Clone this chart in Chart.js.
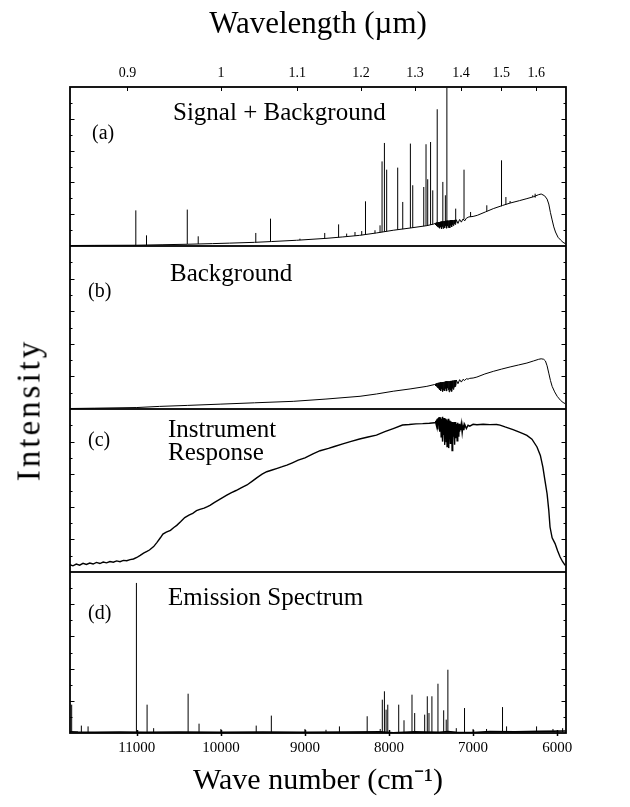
<!DOCTYPE html>
<html>
<head>
<meta charset="utf-8">
<script src="https://cdn.jsdelivr.net/npm/chart.js@4.4.0/dist/chart.umd.min.js"></script>
<style>
  html, body { margin: 0; padding: 0; background: #fff; }
  #page { position: relative; width: 630px; height: 807px; overflow: hidden; background: #fff; }
  #page canvas { position: absolute; left: 0; }
  #ylabel {
    position: absolute; left: 29px; top: 410px;
    transform: translate(-50%, -50%) rotate(-90deg);
    font: 33px "Liberation Serif", serif; letter-spacing: 3px; white-space: nowrap; color: #000;
  }
</style>
</head>
<body>
<div id="page">
  <canvas id="panelA" width="630" height="246" style="top:0px"></canvas>
  <canvas id="panelB" width="630" height="163" style="top:246px"></canvas>
  <canvas id="panelC" width="630" height="163" style="top:409px"></canvas>
  <canvas id="panelD" width="630" height="235" style="top:572px"></canvas>
  <div id="ylabel">Intensity</div>
</div>
<script>
// axis ranges and tick labels
const WN_MIN = 5895
const WN_MAX = 11795
const wnTicks = [6000, 7000, 8000, 9000, 10000, 11000]
const lambdaTicks = [0.9, 1, 1.1, 1.2, 1.3, 1.4, 1.5, 1.6]
const lambdaLabels = ['0.9', '1', '1.1', '1.2', '1.3', '1.4', '1.5', '1.6']
const yTicks = [10, 20, 30, 40, 50, 60, 70, 80, 90]

// (a) signal + background: continuum (cm-1, % of panel)
const aWn = [11795, 11500, 11000, 10700, 10400, 10100, 9900, 9600, 9400, 9100, 8750, 8550, 8350, 8150, 7950, 7750, 7550, 7470,
  7450, 7445, 7440, 7435, 7430, 7425, 7420, 7415, 7410, 7405, 7400, 7395, 7390, 7385, 7380, 7375, 7370, 7365, 7360, 7355,
  7350, 7345, 7340, 7335, 7330, 7325, 7320, 7315, 7310, 7305, 7300, 7295, 7290, 7285, 7280, 7275, 7270, 7265, 7260, 7255,
  7250, 7245, 7240, 7235, 7230, 7225, 7220, 7215, 7210, 7205, 7200, 7180, 7160, 7140, 7120, 7100, 7080, 7050,
  7000, 6950, 6850, 6760, 6650, 6560, 6450, 6360, 6280, 6220, 6190, 6150, 6120, 6100, 6080, 6060, 6040, 6020, 5990, 5960, 5930, 5900]
const aVal = [0.3, 0.4, 0.5, 0.8, 1.1, 1.5, 1.8, 2.3, 2.8, 3.6, 4.8, 5.7, 6.7, 8.2, 9.9, 11.3, 12.8, 13.8,
  14.2, 13.2, 14.6, 12.6, 14.8, 12.2, 14.9, 11.8, 15, 12.5, 15.1, 11.2, 15.2, 12, 15.3, 10.8, 15.4, 12.2, 15.5, 11,
  15.6, 12.4, 15.7, 11.5, 15.8, 12.8, 15.8, 11.2, 15.9, 12.6, 16, 11.6, 16, 12.9, 16.1, 11.4, 16.1, 13, 16.2, 12,
  16.2, 13.4, 16.3, 12.8, 16.3, 14, 16.4, 13.6, 16.4, 14.5, 16.5, 14.2, 16.7, 15, 17, 15.8, 17.5, 18.3,
  18.6, 19.3, 21.5, 23.5, 25.5, 27, 28.5, 29.8, 31, 32.3, 32.7, 31.6, 29.5, 26.4, 21, 16.4, 12, 8.8, 5.5, 3.8, 2.3, 1.4]

// (a) emission lines: position, top, foot
const aLineWn = [11012, 10885, 10400, 10270, 9585, 9410, 9060, 8765, 8600, 8504, 8405, 8325, 8280, 8167, 8107, 8083, 8055, 8028,
  7897, 7837, 7746, 7718, 7587, 7560, 7540, 7506, 7480, 7427, 7360, 7330, 7312, 7207, 7108, 7030, 6837, 6662, 6610, 6560, 6290, 6262]
const aLineTop = [22.4, 6.7, 22.9, 6.1, 8.2, 17.2, 4.6, 8.2, 13.6, 7.8, 8.8, 9.4, 28.1, 9.9, 13, 53.2, 64.8, 48,
  49.3, 27.7, 64.4, 38.2, 37.1, 64, 42, 65.4, 35, 86, 40.3, 31.9, 99.5, 23.5, 48, 21.4, 25.6, 53.9, 30.8, 28.3, 31.9, 32.9]
const aLineBase = [0.5, 0.6, 1.1, 1.3, 2.3, 2.8, 3.7, 4.8, 5.5, 6.1, 6.3, 6.8, 7.0, 8.0, 8.5, 8.7, 9.0, 9.2,
  10.2, 10.6, 11.3, 11.5, 12.5, 12.7, 12.9, 13.2, 13.5, 13.5, 14.0, 14.0, 14.0, 15.5, 16.8, 18.3, 21.8, 25.0, 26.0, 27.0, 30.8, 30.4]

// (b) background
const bWn = [11795, 11500, 11000, 10730, 10400, 10000, 9600, 9140, 8750, 8345, 8150, 7950, 7750, 7550, 7460,
  7450, 7445, 7440, 7435, 7430, 7425, 7420, 7415, 7410, 7405, 7400, 7395, 7390, 7385, 7380, 7375, 7370, 7365, 7360, 7355,
  7350, 7345, 7340, 7335, 7330, 7325, 7320, 7315, 7310, 7305, 7300, 7295, 7290, 7285, 7280, 7275, 7270, 7265, 7260, 7255,
  7250, 7245, 7240, 7235, 7230, 7225, 7220, 7215, 7210, 7205, 7200, 7180, 7160, 7140, 7120, 7100, 7080, 7060, 7040,
  7000, 6955, 6860, 6760, 6660, 6560, 6460, 6360, 6280, 6220, 6190, 6160, 6140, 6120, 6100, 6080, 6060, 6030, 6000, 5960, 5930, 5905]
const bVal = [0.3, 0.5, 0.9, 1.6, 2.2, 3.0, 3.8, 4.7, 6.1, 7.8, 9.2, 10.9, 12.3, 13.9, 15,
  15.2, 14.2, 15.6, 13.8, 15.8, 13.2, 16, 12.8, 16.1, 12.2, 16.2, 11.8, 16.3, 11.2, 16.2, 12.5, 16.4, 10.6, 16.5, 11.5,
  16.6, 12.4, 16.7, 11.2, 16.8, 12.6, 16.9, 11, 17, 12.8, 17, 11.8, 17.1, 10.5, 17.1, 12.2, 17.2, 11.5, 17.2, 10.8,
  17.3, 12.6, 17.4, 12, 17.5, 13.4, 17.6, 13.8, 17.7, 14.5, 17.8, 15.5, 18, 16.5, 18.2, 17.5, 18.6, 18.3, 18.8,
  19.0, 19.6, 21.5, 23.1, 24.5, 25.8, 27.0, 28.2, 29.5, 30.5, 30.8, 30.5, 29.5, 26.5, 22, 17.5, 13.9, 10.5, 7.8, 5.3, 4, 3.3]

// (c) instrument response
const cWn = [11795, 11760, 11720, 11680, 11640, 11600, 11560, 11520, 11480, 11440, 11400, 11360, 11320, 11280, 11240, 11200, 11160, 11120, 11080, 11040,
  11000, 10960, 10920, 10880, 10850, 10800, 10760, 10720, 10690, 10650, 10600, 10560, 10525, 10480, 10430, 10380, 10335, 10290, 10250, 10200,
  10160, 10130, 10080, 10030, 9980, 9930, 9880, 9820, 9760, 9690, 9630, 9570, 9510, 9455, 9400, 9330, 9270, 9215, 9150, 9080,
  9000, 8905, 8820, 8720, 8650, 8550, 8450, 8350, 8250, 8150, 8050, 7950, 7840, 7760, 7680, 7600, 7520, 7460,
  7450, 7445, 7440, 7435, 7430, 7425, 7420, 7415, 7410, 7405, 7400, 7395, 7390, 7385, 7380, 7375, 7370, 7365, 7360, 7355,
  7350, 7345, 7340, 7335, 7330, 7325, 7320, 7315, 7310, 7305, 7300, 7295, 7290, 7285, 7280, 7275, 7270, 7265, 7260, 7255,
  7250, 7245, 7240, 7235, 7230, 7225, 7220, 7215, 7210, 7205, 7200, 7195, 7190, 7185, 7180, 7175, 7170, 7165, 7160, 7155,
  7150, 7140, 7130, 7120, 7110, 7100, 7080, 7060, 7040,
  7000, 6955, 6880, 6800, 6720, 6680, 6620, 6560, 6525, 6450, 6400, 6360, 6300, 6240, 6200, 6170, 6145, 6120, 6100, 6085,
  6060, 6025, 5995, 5965, 5935, 5905]
const cVal = [4.5, 3.8, 4.9, 4.2, 5.3, 4.6, 5.5, 4.9, 5.9, 5.2, 6.1, 5.6, 6.4, 6.0, 6.8, 6.3, 7.1, 6.9, 7.6, 8.0,
  8.9, 10.2, 11.6, 12.6, 13.5, 15.6, 18.2, 21.0, 23.3, 24.5, 25.6, 27.3, 28.6, 30.8, 33.4, 34.9, 36.0, 37.6, 38.4, 39.2,
  40.1, 40.9, 42.6, 44.1, 45.6, 47.1, 48.6, 50.0, 51.6, 53.4, 55.6, 57.9, 60.0, 61.5, 62.4, 63.6, 64.6, 65.6, 67.0, 68.6,
  70.0, 72.5, 74.4, 75.8, 77.0, 78.6, 80.1, 81.6, 82.8, 84.0, 86.1, 88.0, 90.2, 90.5, 90.9, 91.0, 91.3, 91.6,
  91.5, 92.8, 90.5, 93.5, 89, 94, 87.5, 94.5, 90, 95, 86, 94.5, 88, 95, 83, 94, 86, 95.2, 80, 94,
  84, 94.5, 78, 93, 85, 94, 80, 93.5, 77, 93, 84, 94, 76, 92, 82, 93, 79, 92.5, 85, 92,
  74.5, 92, 80, 91.5, 83, 92, 78, 91, 82, 92, 84, 91, 80.5, 91.5, 85, 90.5, 83, 91, 86, 90.5,
  87, 91, 85.5, 90, 87, 90.5, 88, 90, 89.5,
  90.6, 90.3, 90.6, 90.4, 90.5, 90.1, 89.0, 88.0, 87.3, 85.8, 84.8, 83.8, 81.5, 76.7, 71.5, 64.4, 56, 48, 38, 27.6,
  21, 17.4, 13, 9.2, 6.3, 4.1]

// (d) emission spectrum: baseline and lines
const dWn = [11795, 11700, 11500, 11200, 10900, 10500, 10000, 9500, 9000, 8500, 8100, 7950, 7700, 7400, 7300, 7200, 7000, 6800, 6500, 6200, 5900]
const dVal = [0.8, 0.6, 0.5, 0.6, 0.5, 0.6, 0.5, 0.6, 0.5, 0.6, 0.7, 0.2, 0.7, 0.5, 0.9, 0.4, 0.3, 0.9, 0.7, 1.0, 1.2]
const dLineWn = [11775, 11660, 11580, 11005, 10878, 10800, 10390, 10260, 10000, 9580, 9400, 9000, 8750, 8590, 8260, 8105, 8080, 8055, 8035, 8015,
  7885, 7822, 7727, 7695, 7576, 7545, 7525, 7490, 7418, 7350, 7320, 7300, 7200, 7102, 7000, 6840, 6650, 6602, 6245, 6050, 5935]
const dLineTop = [17.6, 4.6, 4.1, 93.2, 17.6, 3, 24.4, 5.8, 2.5, 4.6, 10.8, 2.5, 2, 4.1, 10.4, 2.5, 20.7, 25.9, 14.5, 17.6,
  17.6, 7.9, 23.8, 12.4, 11.4, 22.8, 12.4, 22.8, 30.6, 14.1, 8.3, 39.3, 3, 15.5, 2.5, 2.5, 16.1, 4.1, 4.1, 2.5, 3]

function curve(wn, val) {
  return wn.map((x, i) => ({ x: x, y: val[i] }))
}

function spikes(wn, top, base) {
  const pts = []
  wn.forEach((x, i) => {
    const foot = Array.isArray(base) ? base[i] : base
    pts.push({ x: x, y: foot }, { x: x, y: top[i] }, { x: x, y: null })
  })
  return pts
}

const SERIF = '"Liberation Serif", "Times New Roman", serif'

// frame, inward ticks and panel captions
const framePlugin = {
  id: 'frame',
  afterDatasetsDraw(chart, args, opts) {
    const { ctx, chartArea: a } = chart
    const y = chart.scales.y
    ctx.save()
    ctx.strokeStyle = '#000'
    ctx.lineWidth = 1.8
    ctx.strokeRect(a.left, a.top, a.right - a.left, a.bottom - a.top)

    ctx.lineWidth = 1
    yTicks.forEach(v => {
      const py = Math.round(y.getPixelForValue(v)) + 0.5
      const len = v % 20 === 0 ? 4.5 : 2.5
      ctx.beginPath()
      ctx.moveTo(a.left, py)
      ctx.lineTo(a.left + len, py)
      ctx.moveTo(a.right, py)
      ctx.lineTo(a.right - len, py)
      ctx.stroke()
    })

    if (opts.topTicks) {
      const x2 = chart.scales.x2
      x2.ticks.forEach(t => {
        const px = Math.round(x2.getPixelForValue(t.value)) + 0.5
        ctx.beginPath()
        ctx.moveTo(px, a.top)
        ctx.lineTo(px, a.top + 4)
        ctx.stroke()
      })
    }
    if (opts.bottomTicks) {
      const x = chart.scales.x
      ctx.lineWidth = 1.5
      x.ticks.forEach(t => {
        const px = Math.round(x.getPixelForValue(t.value)) + 0.5
        ctx.beginPath()
        ctx.moveTo(px, a.bottom - 3)
        ctx.lineTo(px, a.bottom + 3)
        ctx.stroke()
      })
    }

    ctx.fillStyle = '#000'
    ctx.textBaseline = 'alphabetic'
    ctx.textAlign = 'left'
    ;(opts.captions || []).forEach(c => {
      ctx.font = c.size + 'px ' + SERIF
      ctx.fillText(c.text, c.x, a.top + c.dy)
    })
    ctx.restore()
  }
}

function makePanel(id, datasets, captions, extra) {
  extra = extra || {}
  const scales = {
    x: {
      type: 'linear',
      min: WN_MIN,
      max: WN_MAX,
      reverse: true,
      display: !!extra.bottomAxis,
      grid: { display: false, drawTicks: false },
      border: { display: false },
      afterBuildTicks: s => { s.ticks = wnTicks.map(v => ({ value: v })) },
      afterFit: s => { s.height = extra.bottomAxis ? 74 : 0 },
      ticks: {
        autoSkip: false,
        maxRotation: 0,
        padding: 6,
        color: '#000',
        font: { family: SERIF, size: 15 },
        callback: v => String(v)
      },
      title: {
        display: !!extra.bottomAxis,
        text: 'Wave number (cm\u207B\u00B9)',
        color: '#000',
        font: { family: SERIF, size: 30 },
        padding: { top: 0, bottom: 8 }
      }
    },
    y: {
      type: 'linear',
      min: 0,
      max: 100,
      display: false
    }
  }
  if (extra.topAxis) {
    scales.x2 = {
      type: 'linear',
      position: 'top',
      min: WN_MIN,
      max: WN_MAX,
      reverse: true,
      grid: { display: false, drawTicks: false },
      border: { display: false },
      afterBuildTicks: s => { s.ticks = lambdaTicks.map(l => ({ value: 1e4 / l })) },
      afterFit: s => { s.height = 87 },
      ticks: {
        autoSkip: false,
        maxRotation: 0,
        padding: 5,
        color: '#000',
        font: { family: SERIF, size: 14 },
        callback: (v, i) => lambdaLabels[i]
      },
      title: {
        display: true,
        text: 'Wavelength (\u00B5m)',
        color: '#000',
        font: { family: SERIF, size: 31 },
        padding: { top: 6, bottom: 0 }
      }
    }
  }

  return new Chart(document.getElementById(id), {
    type: 'line',
    data: { datasets: datasets },
    options: {
      responsive: false,
      animation: false,
      events: [],
      layout: { padding: { left: 70, right: 64, top: 0, bottom: 0 } },
      elements: {
        point: { radius: 0 },
        line: { borderWidth: 1, borderColor: '#000', tension: 0 }
      },
      plugins: {
        legend: { display: false },
        tooltip: { enabled: false },
        frame: { captions: captions, topTicks: !!extra.topAxis, bottomTicks: !!extra.bottomAxis }
      },
      scales: scales
    },
    plugins: [framePlugin]
  })
}

const lineStyle = { borderColor: '#000', borderWidth: 1, spanGaps: false }

makePanel('panelA', [
  Object.assign({ data: curve(aWn, aVal) }, lineStyle),
  Object.assign({ data: spikes(aLineWn, aLineTop, aLineBase) }, lineStyle)
], [
  { text: '(a)', x: 92, dy: 52, size: 20 },
  { text: 'Signal + Background', x: 173, dy: 33, size: 25 }
], { topAxis: true })

makePanel('panelB', [
  Object.assign({ data: curve(bWn, bVal) }, lineStyle)
], [
  { text: '(b)', x: 88, dy: 51, size: 20 },
  { text: 'Background', x: 170, dy: 35, size: 25 }
])

makePanel('panelC', [
  Object.assign({ data: curve(cWn, cVal) }, lineStyle, { borderWidth: 1.4 })
], [
  { text: '(c)', x: 88, dy: 37, size: 20 },
  { text: 'Instrument', x: 168, dy: 28, size: 25 },
  { text: 'Response', x: 168, dy: 51, size: 25 }
])

makePanel('panelD', [
  Object.assign({ data: curve(dWn, dVal) }, lineStyle, { borderWidth: 1.6 }),
  Object.assign({ data: spikes(dLineWn, dLineTop, 0.6) }, lineStyle)
], [
  { text: '(d)', x: 88, dy: 47, size: 20 },
  { text: 'Emission Spectrum', x: 168, dy: 33, size: 25 }
], { bottomAxis: true })
</script>
</body>
</html>
